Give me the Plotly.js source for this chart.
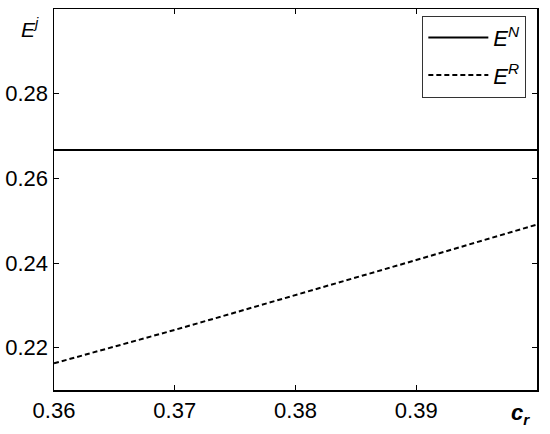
<!DOCTYPE html>
<html>
<head>
<meta charset="utf-8">
<script src="https://cdn.plot.ly/plotly-3.0.1.min.js"></script>
<style>html,body{margin:0;padding:0;background:#fff;}#chart{width:550px;height:434px;}</style>
</head>
<body>
<div id="chart"></div>
<script>
const cr = [0.360, 0.365, 0.370, 0.375, 0.380, 0.385, 0.390, 0.395, 0.400];
const EN = [0.2667, 0.2667, 0.2667, 0.2667, 0.2667, 0.2667, 0.2667, 0.2667, 0.2667];
const ER = [0.2163, 0.2202, 0.2242, 0.2283, 0.2324, 0.2365, 0.2407, 0.2449, 0.2491];
const xTicks = [0.36, 0.37, 0.38, 0.39];
const xTickText = ['0.36', '0.37', '0.38', '0.39'];
const yTicks = [0.22, 0.24, 0.26, 0.28];
const yTickText = ['0.22', '0.24', '0.26', '0.28'];

const font = 'Liberation Sans, Arial, sans-serif';
const traces = [
  {x: cr, y: EN, mode: 'lines', name: '<i>E</i><sup><i>N</i></sup>', legendgroup: 'a',
   line: {color: '#000', width: 2}},
  {x: cr, y: ER, mode: 'lines', name: '<i>E</i><sup><i>R</i></sup>', legendgroup: 'b',
   line: {color: '#000', width: 2, dash: '5px,3px'}}
];
const layout = {
  width: 550, height: 434,
  margin: {l: 54, r: 12.5, t: 9, b: 44},
  paper_bgcolor: '#fff', plot_bgcolor: '#fff',
  font: {family: font, color: '#000', size: 22},
  showlegend: true,
  legend: {
    x: 0.7626, y: 0.9824, xanchor: 'left', yanchor: 'top',
    bordercolor: '#333', borderwidth: 1, bgcolor: '#fff',
    font: {family: font, size: 22, color: '#000'},
    itemwidth: 60, traceorder: 'grouped', tracegroupgap: 6
  },
  xaxis: {
    range: [0.36, 0.40], tickvals: xTicks, ticktext: xTickText,
    ticks: 'inside', ticklen: 5, tickwidth: 1, tickcolor: '#000',
    showline: true, linecolor: '#000', linewidth: 1.5, mirror: 'ticks',
    showgrid: false, zeroline: false,
    tickfont: {family: font, size: 22, color: '#000'}
  },
  yaxis: {
    range: [0.21, 0.30], tickvals: yTicks, ticktext: yTickText,
    ticks: 'inside', ticklen: 5, tickwidth: 1, tickcolor: '#000',
    showline: true, linecolor: '#000', linewidth: 1.5, mirror: 'ticks',
    showgrid: false, zeroline: false,
    tickfont: {family: font, size: 22, color: '#000'}
  },
  annotations: [
    {text: '<i>E</i><sup><i>j</i></sup>', xref: 'paper', yref: 'paper', x: -0.072, y: 0.95,
     xanchor: 'left', yanchor: 'middle', showarrow: false, font: {family: font, size: 21, color: '#000'}},
    {text: '<b><i>c</i></b><sub><b><i>r</i></b></sub>', xref: 'paper', yref: 'paper', x: 0.966, y: -0.062,
     xanchor: 'center', yanchor: 'middle', showarrow: false, font: {family: font, size: 22, color: '#000'}}
  ]
};
Plotly.newPlot('chart', traces, layout, {displayModeBar: false, staticPlot: true});
</script>
</body>
</html>
